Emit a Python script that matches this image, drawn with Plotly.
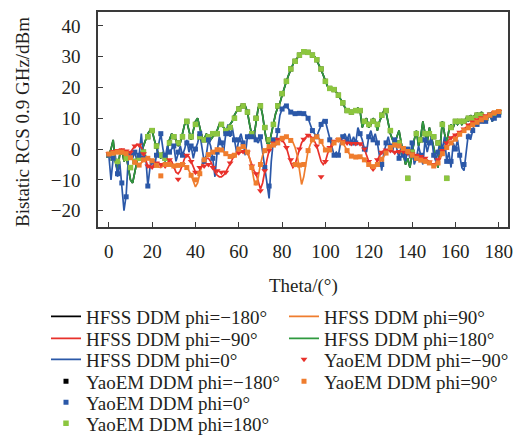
import plotly.graph_objects as go

theta_line = list(range(0, 181))
theta_mark = list(range(0, 181, 2))

hfss_180 = [
    -2, 0, 3, -4, -7, -2, 0, -4, -2, -6,
    -10, -11, -7, -4, -2, -1, 1, 3, 5, 6,
    6, 3, 0, -2, -3, -1, -4, 0, 3, 5,
    4, 3, 1, 2, 5, 8, 9, 6, 3, 6,
    9, 10, 7, 4, 3, 5, 4, 3, 4, 5,
    6, 8, 8, 7, 6, 7, 8, 9, 11, 12.5,
    13.5, 14, 14.3, 14, 12, 8, 4.5, 4, 9, 13.5,
    14.3, 11, 6, 2, 1.5, 5, 8, 11.5, 13.5, 15,
    17.5, 20, 22, 24, 26, 27.5, 28.7, 29.5, 30.5, 31.3,
    31.6, 31.6, 31.5, 31, 30.5, 30, 28.8, 27.5, 25.8, 24,
    22, 20.3, 19.6, 19.4, 19.2, 18.5, 17.5, 16.2, 15, 13.5,
    12.7, 12.2, 12, 12.3, 12.8, 13.3, 12.5, 7, 9, 10,
    7, 8, 10, 9, 6, 9, 11, 12.5, 12, 8,
    5, 3, 2, 4, 6, 2, -2, -5, -3, -6,
    -2, 3, 6, 1, 4, 9, 5, 2, 7, 4,
    0, -3, -6, 1, 9, 5, 2, 6, 8, 7,
    9, 8, 9, 8, 9, 10, 9, 11, 10, 11,
    11.5, 10, 12, 11, 10, 11, 11.5, 9, 10, 11, 12,
]

hfss_0 = [
    -2, -10, -3, -2, -9, -4, -12, -20, -15, -3,
    -2, -3, -1, -4, -2, 5, -3, -2, -12, -6,
    -4, -6, -2, 1, 5, 0, -3, 1, -1, 0,
    1, -4, -1, 1, -2, 0, 3, -1, 1, -3,
    0, 2, 5, 0, -4, -2, 3, 1, -3, -9,
    -1, 4, 2, -1, 5, 8, 4, 7, 3, -1,
    3, 5, 2, -2, 4, 5, 4, 6, 3, 2,
    4, -2, -6, -11, -16, -4, 3, 1, 6, 11,
    13, 14, 14, 13, 12, 11.5, 11.5, 11.8, 11.6, 11.5,
    11.5, 11, 10, 8, 6, 5, 4, 6, 8, 9.5,
    9, 6, 3, 0, -2, -1, -2, 2, 4, 5,
    3, 5, 2, 4, 2, 7, 5, 3, 0, -1,
    4, 6, 3, 5, 2, -3, -7, -1, 2, 4,
    1, -1, 3, 0, -3, 1, -2, -4, 0, -3,
    2, -5, -3, 1, -2, -5, 3, -1, 2, 4,
    -2, -4, -1, 3, 0, 4, -4, -1, -6, 2,
    0, 3, -2, -6, -7, 0, 5, 3, 6, 9,
    8, 10, 9, 11, 9, 10, 11, 9, 10, 12, 11,
]

hfss_m90 = [
    -1.5, -1, -0.8, -0.5, -0.5, -0.3, -0.2, -0.3, -0.6, -1,
    -1, 0, 1, 1.5, 1.3, 0.5, -1.5, -4, -5.5, -6,
    -5.8, -5, -4.5, -4.5, -5, -5.5, -5.5, -4.5, -3.5, -4,
    -5.5, -7.5, -8, -7, -5, -3, -2, -2.5, -4, -6,
    -7.5, -7.8, -7, -5.5, -4, -3, -3, -4, -5.5, -7.5,
    -8.5, -9, -9, -8.5, -7.5, -6, -4.5, -3, -2, -1.5,
    -1.2, -1, -0.8, -0.5, -1, -3, -5.5, -7, -8, -11,
    -13, -11, -7, -3.5, -0.5, 1, 2, 2.8, 3.2, 3.3,
    3, 2, 0.5, -2, -4.5, -6, -5, -2.5, 0, 2,
    3.2, 4, 4.5, 4.3, 3.5, 2.5, 1, -1.5, -4, -5,
    -4, -1.5, 0.5, 1.8, 2.5, 2.8, 3, 2.8, 2.5, 2.2,
    2, 1.9, 1.8, 1.8, 1.8, 1.8, 1.7, 1.2, 0, -2,
    -4, -6, -6.5, -5.5, -3.5, -2, -1, -0.5, -0.3, -0.3,
    -0.5, -0.8, -1, -1, -0.8, -0.7, -0.8, -1, -1.3, -1.5,
    -1.6, -1.8, -2, -2.2, -2.4, -2.7, -3, -3.5, -4.2, -4.8,
    -5, -4.5, -3.5, -2, -0.5, 1, 2, 3, 3.7, 4.2,
    4.6, 5, 5.5, 6, 6.5, 7.2, 7.8, 8.3, 8.8, 9.2,
    9.5, 9.8, 10.2, 10.5, 10.8, 11, 11.3, 11.6, 11.9, 12.1, 12.2,
]

hfss_90 = [
    -1.6, -1.5, -1.3, -1.2, -1, -1, -1, -1.2, -1.5, -2,
    -2.8, -3.5, -4.3, -5, -5.2, -4.5, -3.5, -3, -3, -3.2,
    -3.8, -4.5, -5.3, -5.8, -6, -5.5, -5, -4.8, -5, -5.3,
    -5.5, -5.5, -5.3, -5, -5, -5.3, -6, -7, -8.5, -10.5,
    -12.3, -11, -8, -5, -3.5, -2.5, -1.8, -1.3, -1, -0.5,
    -0.2, -0.1, -0.3, -0.8, -1.5, -2, -2.4, -2.5, -2, -1,
    0, 0.5, 0.8, 0.5, -1, -3, -6, -10, -11.7, -9,
    -5, -2, -0.5, 0.3, 0.8, 1, 1.3, 1.5, 2, 2.8,
    3.5, 4, 4, 3.5, 2.8, 2.2, 0.5, -2, -7, -11.5,
    -9, -4, -0.5, 1.5, 3, 3.8, 4, 3.5, 2.5, 1,
    -0.3, -0.8, -0.3, 0.8, 2, 2.8, 3, 2.8, 2, 0.8,
    -0.5, -1.5, -2.3, -2.6, -2.6, -2.5, -2.5, -2.8, -3.5, -4.3,
    -5, -5.5, -5.7, -5.5, -5, -4.2, -3.3, -2.3, -1.3, -0.3,
    0.5, 1, 1.3, 1.3, 1, 0.6, 0.2, -0.3, -0.8, -1.4,
    -2, -2.5, -3, -3.3, -3.6, -3.8, -4, -4.2, -4.5, -5,
    -5.5, -5.5, -4.5, -3, -1.5, -0.3, 0.5, 1.3, 2, 2.6,
    3.2, 4, 4.8, 5.5, 6, 6.4, 6.9, 7.4, 7.9, 8.3,
    8.7, 9.1, 9.5, 9.9, 10.2, 10.6, 11, 11.4, 11.8, 12.1, 12.2,
]

# phi = -180 coincides with phi = 180 (hidden underneath in the original)
hfss_m180 = list(hfss_180)

yao_180 = [
    -2, -3, -4, -1, -3, -6, -4, -3, -1, 4,
    6, 1, -2, -3, 2, 4, 2, 4, 9, 4,
    8, 4, 3, 4, 5, 5, 8, 6, 7, 10,
    13, 14, 12, 5, 10, 14, 7, 3, 8, 14,
    18, 22, 26, 28.5, 30.5, 31.6, 31.4, 30.5, 29, 26,
    22, 19.7, 19.3, 17.5, 15, 12.5, 12, 12.5, 12.5, 9,
    8, 9, 8, 11, 12.5, 6, 2, 2, -1, -9.5,
    -1, 5, 3, 5, 5, 4, 2, 8, -9.5, 7,
    9, 9, 9, 10, 10, 11, 11, 10, 11, 11,
    12,
]

yao_0 = [
    -2, -3, -8, -11, -15.5, -2, -1, -2, -3, -12,
    -4, -2, 5, -2, -1, 1, -1, -2, 2, 1,
    0, 5, -4, 3, -3, -1, 2, 5, 5, 3,
    3, 2, 4, 4, 3, 4, -6, -12, 3, 6,
    13, 14, 12, 11.5, 11.6, 11.5, 10, 6, 4, 8,
    9, 3, -2, -2, 4, 3, 2, 2, 5, 0,
    4, 3, 2, -5, 2, 1, 3, -3, -2, 0,
    2, -3, -2, 3, 2, -2, -1, 0, -4, -4,
    0, -2, -5, 4, 6, 8, 9, 9, 11, 10,
    11,
]

yao_m90 = [
    -1.5, -0.8, -0.5, -0.2, -0.6, -1, 1, 1.3, -1.5, -5.5,
    -5.8, -4.5, -5, -5.5, -3.5, -5.5, -9.8, -5, -2, -4,
    -7.5, -6, -5.5, -5, -6, -7, -7.5, -7.5, -4.5, -2,
    -1.2, -0.8, -1, -5.5, -8, -13.5, -7, -0.5, 2, 3.2,
    3, 0.5, -3.5, -5, 0, 3.2, 4.5, 3.5, 1, -9,
    -4, 0.5, 2.5, 3, 2.5, 2, 1.8, 1.8, 1.7, 0,
    -4, -6.5, -3.5, -1, -0.3, -0.5, -1, -0.8, -0.8, -1.3,
    -1.6, -2, -2.4, -3, -4.2, -5, -3.5, -0.5, 2, 3.7,
    4.6, 5.5, 6.5, 7.8, 8.8, 9.5, 10.2, 10.8, 11.3, 11.9,
    12.2,
]

yao_90 = [
    -1.6, -1.3, -1, -1, -1.5, -2.8, -4.3, -5.2, -3.5, -3,
    -3.8, -5.3, -8.7, -5, -5, -5.5, -5.3, -5, -6, -8.5,
    -10, -8, -3.5, -1.8, -1, -0.2, -0.3, -1.5, -2.4, -2,
    0, 0.8, -1, -6, -11, -5, -0.5, 0.8, 1.3, 2,
    3.5, 4, 2.8, -5, -5.2, -5, -0.5, 3, 4, 2.5,
    -0.3, -0.3, 2, 3, 2, -0.5, -2.3, -2.6, -2.5, -3.5,
    -5, -5.7, -5, -3.3, -1.3, 0.5, 1.3, 1, 0.2, -0.8,
    -2, -3, -3.6, -4, -4.5, -5.5, -4.5, -1.5, 0.5, 2,
    3.2, 4.8, 6, 6.9, 7.9, 8.7, 9.5, 10.2, 11, 11.8,
    12.2,
]

yao_m180 = list(yao_180)

x_ticks = [0, 20, 40, 60, 80, 100, 120, 140, 160, 180]
y_ticks = [-20, -10, 0, 10, 20, 30, 40]

C_BLACK = "#000000"
C_RED = "#e8312b"
C_BLUE = "#2b58a8"
C_ORANGE = "#ef7d2e"
C_GREEN = "#2f9a3f"
C_LGREEN = "#8cc63f"
FONT = "Liberation Serif, Times New Roman, serif"
TXT = "#231f20"

fig = go.Figure()

def line(y, name, color, lg):
    fig.add_trace(go.Scatter(x=theta_line, y=y, mode="lines", name=name,
                             line=dict(color=color, width=1.7), legend=lg))

def marks(y, name, color, symbol, size, lg):
    fig.add_trace(go.Scatter(x=theta_mark, y=y, mode="markers", name=name,
                             marker=dict(color=color, symbol=symbol, size=size),
                             legend=lg))

line(hfss_m180, "HFSS DDM phi=\u2212180\u00b0", C_BLACK, "legend")
line(hfss_180, "HFSS DDM phi=180\u00b0", C_GREEN, "legend8")
line(hfss_0, "HFSS DDM phi=0\u00b0", C_BLUE, "legend3")
line(hfss_m90, "HFSS DDM phi=\u221290\u00b0", C_RED, "legend2")
line(hfss_90, "HFSS DDM phi=90\u00b0", C_ORANGE, "legend7")
marks(yao_m180, "YaoEM DDM phi=\u2212180\u00b0", C_BLACK, "square", 5, "legend4")
marks(yao_180, "YaoEM DDM phi=180\u00b0", C_LGREEN, "square", 5.5, "legend6")
marks(yao_0, "YaoEM DDM phi=0\u00b0", C_BLUE, "square", 5, "legend5")
marks(yao_m90, "YaoEM DDM phi=\u221290\u00b0", C_RED, "triangle-down", 6, "legend9")
marks(yao_90, "YaoEM DDM phi=90\u00b0", C_ORANGE, "square", 5, "legend10")

# the page body adds an 8 px offset; all figure positions below compensate for it
W, H = 528, 435
OFF = 8
left_rows = {"legend": 316.5, "legend2": 338.5, "legend3": 359.5,
             "legend4": 381.5, "legend5": 402.5, "legend6": 423.5}
right_rows = {"legend7": 316.5, "legend8": 338.5, "legend9": 359.5,
              "legend10": 381.5}
legends = {}
for rows, xpx in ((left_rows, 87 - OFF - 41), (right_rows, 325 - OFF - 41)):
    for key, ypx in rows.items():
        legends[key] = dict(x=xpx / W, y=1 - (ypx - OFF) / H,
                            xref="container", yref="container",
                            xanchor="left", yanchor="middle", bgcolor="rgba(0,0,0,0)",
                            font=dict(family=FONT, size=19, color=TXT))

axis_common = dict(showline=True, mirror=True, linecolor="#3a3a3a", linewidth=1.5,
                   ticks="inside", ticklen=5, tickwidth=1.2, tickcolor="#3a3a3a",
                   showgrid=False, zeroline=False,
                   tickfont=dict(family=FONT, size=19, color=TXT))

L, R, T, B = 98 - OFF, 508 - OFF, 12 - OFF, 227 - OFF
fig.update_layout(
    width=W, height=H,
    margin=dict(l=L, r=W - R, t=T, b=H - B, autoexpand=False),
    paper_bgcolor="white", plot_bgcolor="white",
    showlegend=True,
    xaxis=dict(range=[-5, 184.3], tickvals=x_ticks, ticklabelstandoff=6,
               **axis_common),
    yaxis=dict(range=[-25.3, 44.5], tickvals=y_ticks, ticklabelstandoff=12,
               **axis_common),
    annotations=[
        dict(text="Bistatic RCS 0.9 GHz/dBm", textangle=-90, showarrow=False,
             xref="paper", yref="paper",
             x=(22 - OFF - L) / (R - L), y=(B - (122 - OFF)) / (B - T),
             xanchor="center", yanchor="middle",
             font=dict(family=FONT, size=19, color=TXT)),
        dict(text="Theta/(\u00b0)", showarrow=False,
             xref="paper", yref="paper",
             x=(303 - OFF - L) / (R - L), y=(B - (286 - OFF)) / (B - T),
             xanchor="center", yanchor="middle",
             font=dict(family=FONT, size=19, color=TXT)),
    ],
    **legends,
)

fig.write_html("out.html")
